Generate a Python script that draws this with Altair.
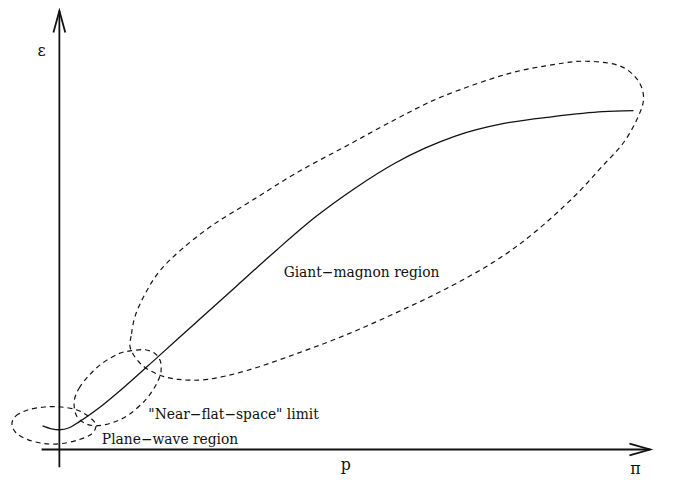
import altair as alt
import pandas as pd

# Dispersion curve epsilon(p) (arbitrary schematic units, origin at axes crossing)
curve_p = [-17, -8, 0, 10, 20, 40, 70, 100, 140, 180, 220, 260, 300, 340, 370, 400, 450, 500, 550, 581]
curve_e = [24, 21, 20, 22, 28, 42, 67, 94, 130, 166, 202, 236, 265, 290, 305, 317, 330, 337, 342, 343]

# Dashed region outlines (traced points)
plane_p = [-48, -44, -32, -15, 2, 18, 30, 37, 33, 20, 2, -15, -32, -44]
plane_e = [26, 34, 40, 43, 43, 40, 33, 25, 16, 10, 6, 6, 10, 17]

nearflat_p = [15, 20, 30, 43, 60, 73, 87, 97, 102, 103, 102, 97, 87, 70, 53, 37, 25, 17]
nearflat_e = [49, 62, 75, 87, 97, 100, 101, 97, 90, 82, 75, 64, 50, 35, 27, 24, 27, 35]

giant_p = [72, 73, 77, 87, 101, 123, 155, 195, 240, 290, 340, 387, 453, 503, 533, 565, 583, 591, 588,
           572, 547, 520, 480, 440, 390, 340, 290, 240, 190, 150, 120, 100, 83]
giant_e = [102, 117, 136, 158, 180, 202, 227, 252, 280, 307, 334, 357, 380, 390, 393, 389, 377, 360, 342,
           312, 284, 255, 219, 190, 162, 138, 116, 97, 80, 71, 71, 76, 86]

# Axes with arrowheads
axis_names = ["vert", "vert", "horiz", "horiz", "varrow", "varrow", "varrow", "harrow", "harrow", "harrow"]
axis_p = [0, 0, -18, 598, -6, 0, 6, 577, 598, 577]
axis_e = [-18, 444, 0, 0, 422, 444, 422, 6, 0, -6]

# Labels
label_text = ["ε", "π", "p", "Giant−magnon region", "\"Near−flat−space\" limit", "Plane−wave region"]
label_p = [-18, 583, 290, 227, 90, 43]
label_e = [398, -25, -21, 175, 31, 6]
label_align = ["center", "center", "center", "left", "left", "left"]

SERIF = "DejaVu Serif"

xs = alt.Scale(domain=[-52, 607], nice=False, zero=False)
ys = alt.Scale(domain=[-20, 444], nice=False, zero=False)

curve_df = pd.DataFrame({"p": curve_p, "e": curve_e, "o": range(len(curve_p))})

ell_rows = []
for name, ps, es in [("plane", plane_p, plane_e), ("near", nearflat_p, nearflat_e), ("giant", giant_p, giant_e)]:
    for i, (a, b) in enumerate(zip(ps, es)):
        ell_rows.append({"g": name, "p": a, "e": b, "o": i})
ell_df = pd.DataFrame(ell_rows)

axis_df = pd.DataFrame({"g": axis_names, "p": axis_p, "e": axis_e, "o": range(len(axis_p))})
lab_df = pd.DataFrame({"t": label_text, "p": label_p, "e": label_e, "a": label_align})

X = lambda: alt.X("p:Q", scale=xs, axis=None)
Y = lambda: alt.Y("e:Q", scale=ys, axis=None)

axes = alt.Chart(axis_df).mark_line(color="#111", strokeWidth=1.8).encode(
    x=X(), y=Y(), detail="g:N", order="o:Q")

curve = alt.Chart(curve_df).mark_line(color="#111", strokeWidth=1.3, interpolate="monotone").encode(
    x=X(), y=Y(), order="o:Q")

ellipses = alt.Chart(ell_df).mark_line(color="#111", strokeWidth=1.2, strokeDash=[5, 4],
                                       interpolate="cardinal-closed").encode(
    x=X(), y=Y(), detail="g:N", order="o:Q")

left_labels = alt.Chart(lab_df[lab_df.a == "left"]).mark_text(
    font=SERIF, fontSize=14, align="left", baseline="alphabetic", color="#111").encode(
    x=X(), y=Y(), text="t:N")

center_labels = alt.Chart(lab_df[lab_df.a == "center"]).mark_text(
    font=SERIF, fontSize=16, align="center", baseline="alphabetic", color="#111").encode(
    x=X(), y=Y(), text="t:N")

chart = alt.layer(axes, ellipses, curve, left_labels, center_labels).properties(
    width=659, height=464, autosize="none",
    padding={"left": 0, "top": 0, "right": 8, "bottom": 8},
).configure_view(stroke=None)

chart.save("out.html", embed_options={"renderer": "svg", "actions": False})
